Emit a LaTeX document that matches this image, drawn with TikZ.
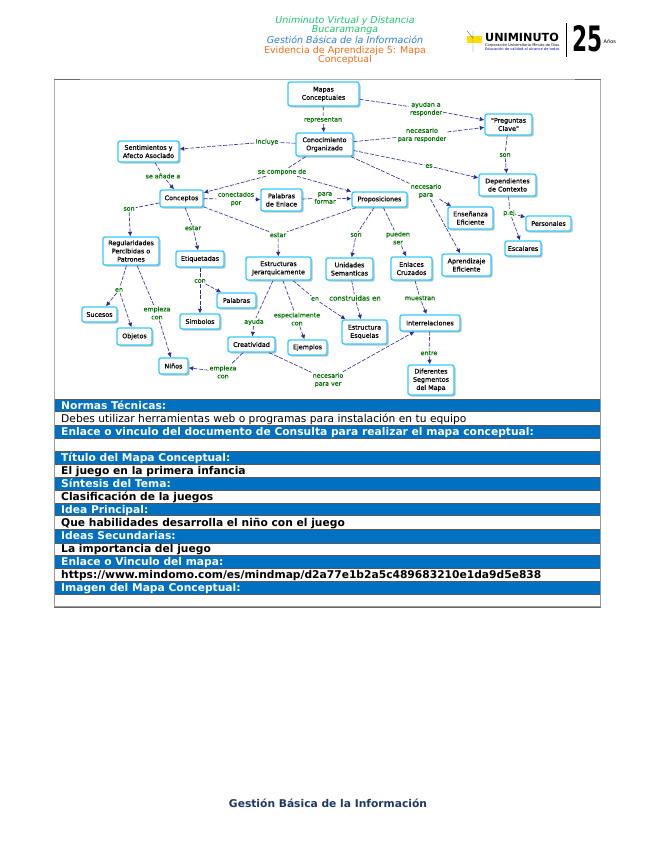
\documentclass[tikz,border=0pt]{standalone}
\usepackage{fontspec}
\setmainfont{DejaVu Sans}
\newfontfamily\boxfont[FakeBold=0.45]{DejaVu Sans}
\newfontfamily\labfont[FakeBold=0.25]{DejaVu Sans}
\usetikzlibrary{arrows.meta,shadows}
\definecolor{cy}{HTML}{33CCFF}
\definecolor{lab}{HTML}{006E00}
\definecolor{lnk}{HTML}{2A2A9A}
\definecolor{band}{HTML}{0070C0}
\definecolor{hgreen}{HTML}{22C46E}
\definecolor{hblue}{HTML}{2F80D0}
\definecolor{horange}{HTML}{F07020}
\definecolor{foot}{HTML}{1F3864}
\tikzset{
 cbox/.style={draw=cy,line width=1.4pt,rounded corners=2.2pt,fill=white,align=center,inner sep=0pt,
   font=\boxfont\fontsize{6.4}{8.2}\selectfont,text=black,
   drop shadow={shadow xshift=1.6pt,shadow yshift=-1.6pt,fill=black!45,opacity=.55}},
 lbl/.style={font=\labfont\fontsize{6.3}{8}\selectfont,text=lab,align=center,inner sep=1pt},
 con/.style={draw=lnk,line width=.6pt,dash pattern=on 4pt off 1.5pt},
 arr/.style={con,-{Latex[length=4.5pt,width=4.5pt]}},
 bandtxt/.style={font=\fontsize{10.7}{12}\selectfont\bfseries,text=white,anchor=base west,inner sep=0pt},
 rowtxt/.style={font=\fontsize{10.7}{12}\selectfont\bfseries,text=black,anchor=base west,inner sep=0pt},
 headtxt/.style={font=\fontsize{9.5}{11}\selectfont,inner sep=0pt}
}
\newcommand{\cboxat}[7]{%
 \node[cbox,minimum width=#4pt-#2pt,minimum height=#5pt-#3pt] (#1) at ({(#2+#4)/2},{(#3+#5)/2}) {#6};}
\begin{document}
\begin{tikzpicture}[x=1pt,y=-1pt]
\useasboundingbox (0,0) rectangle (655,848);
\fill[white] (0,0) rectangle (655,848);
% header
\node[headtxt,text=hgreen] (h1) at (345,21) {\itshape Uniminuto Virtual y Distancia};
\node[headtxt,text=hgreen] (h2) at (345,30.5) {\itshape Bucaramanga};
\node[headtxt,text=hblue] (h3) at (345,40) {\itshape Gestión Básica de la Información};
\node[headtxt,text=horange] (h4) at (345,50.5) {Evidencia de Aprendizaje 5: Mapa};
\node[headtxt,text=horange] (h5) at (345,60) {Conceptual};
% logo
\fill[yellow!80!orange] (467,36) rectangle (482,43);
\draw[black!60,line width=.4pt] (473,31)--(473,52) (467,31)--(473,38);
\node[font=\fontsize{11.2}{12}\selectfont\bfseries,inner sep=0pt,anchor=base west] (lg1) at (485,42) {UNIMINUTO};
\node[font=\fontsize{3.6}{4}\selectfont,inner sep=0pt,anchor=west] (lg2) at (485,45) {Corporación Universitaria Minuto de Dios};
\node[font=\fontsize{3.6}{4}\selectfont,inner sep=0pt,anchor=west,text=blue!70!black] (lg3) at (485,49) {Educación de calidad al alcance de todos};
\draw[black,line width=.7pt] (566,23)--(566,57);
\node[font=\fontsize{35}{35}\selectfont\bfseries,inner sep=0pt,xscale=.62] (lg4) at (587.5,39) {25};
\node[font=\fontsize{5}{6}\selectfont,inner sep=0pt,anchor=west] (lg5) at (603.5,41.5) {Años};
% frame
\draw[black!32,line width=1.6pt] (54.5,399)--(54.5,79.5)--(600.5,79.5)--(600.5,399);
\draw[black!60,line width=1.2pt] (54,79.5)--(80,79.5) (575,79.5)--(601,79.5);
% nodes
\cboxat{mapas}{288}{82}{359}{106}{Mapas\\Conceptuales}{}
\cboxat{org}{296}{133}{353}{156}{Conocimiento\\Organizado}{}
\cboxat{sent}{118}{141}{179}{162}{Sentimientos y\\Afecto Asociado}{}
\cboxat{conc}{160}{190}{203}{207}{Conceptos}{}
\cboxat{pal}{261}{189}{302}{211}{Palabras\\de Enlace}{}
\cboxat{prop}{352}{192}{407}{207}{Proposiciones}{}
\cboxat{preg}{485}{114}{532}{135}{"Preguntas\\Clave"}{}
\cboxat{dep}{479}{174}{536}{196}{Dependientes\\de Contexto}{}
\cboxat{ens}{448}{207}{493}{229}{Enseñanza\\Eficiente}{}
\cboxat{pers}{526}{216}{571}{231}{Personales}{}
\cboxat{esc}{505}{241}{541}{256}{Escalares}{}
\cboxat{apr}{442}{254}{491}{276}{Aprendizaje\\Eficiente}{}
\cboxat{reg}{103}{237}{159}{265}{Regularidades\\Percibidas o\\Patrones}{}
\cboxat{eti}{176}{251}{224}{267}{Etiquetadas}{}
\cboxat{est}{246}{257}{311}{280}{Estructuras\\Jerarquicamente}{}
\cboxat{uni}{326}{258}{373}{280}{Unidades\\Semanticas}{}
\cboxat{enl}{391}{257}{432}{280}{Enlaces\\Cruzados}{}
\cboxat{suc}{82}{307}{117}{322}{Sucesos}{}
\cboxat{obj}{117}{328}{152}{345}{Objetos}{}
\cboxat{sim}{180}{314}{220}{329}{Simbolos}{}
\cboxat{pala}{217}{293}{256}{308}{Palabras}{}
\cboxat{cre}{228}{337}{275}{352}{Creatividad}{}
\cboxat{eje}{288}{340}{327}{355}{Ejemplos}{}
\cboxat{nin}{159}{358}{188}{374}{Niños}{}
\cboxat{esq}{342}{320}{387}{344}{Estructura\\Esquelas}{}
\cboxat{int}{400}{315}{460}{331}{Interrelaciones}{}
\cboxat{dif}{408}{365}{454}{395}{Diferentes\\Segmentos\\del Mapa}{}
% labels
\node[lbl] (l1) at (323,120) {representan};
\node[lbl] (l2) at (426,109) {ayudan a\\responder};
\node[lbl] (l3) at (422,135) {\fontsize{6.6}{8}\selectfont necesario\\para responder};
\node[lbl] (l4) at (267,142) {Incluye};
\node[lbl] (l5) at (163,176) {se añade a};
\node[lbl] (l6) at (282,172) {se compone de};
\node[lbl] (l7) at (236,199) {conectados\\por};
\node[lbl] (l8) at (325,198) {para\\formar};
\node[lbl] (l9) at (429,166) {es};
\node[lbl] (l10) at (426,191) {necesario\\para};
\node[lbl] (l11) at (505,155) {son};
\node[lbl] (l12) at (129,209) {son};
\node[lbl] (l13) at (193,228) {estar};
\node[lbl] (l14) at (278,235) {estar};
\node[lbl] (l15) at (356,235) {son};
\node[lbl] (l16) at (398,238) {pueden\\ser};
\node[lbl] (l17) at (510,213) {p.ej.};
\node[lbl] (l18) at (119,290) {en};
\node[lbl] (l19) at (157,313) {empieza\\con};
\node[lbl] (l20) at (200,281) {con};
\node[lbl] (l21) at (254,322) {ayuda};
\node[lbl] (l22) at (297,319) {especialmente\\con};
\node[lbl] (l23) at (315,299) {en};
\node[lbl] (l24) at (355,298) {\fontsize{7}{8}\selectfont construidas en};
\node[lbl] (l25) at (420,298) {muestran};
\node[lbl] (l26) at (429,353) {entre};
\node[lbl] (l27) at (328,380) {necesario\\para ver};
\node[lbl] (l28) at (223,372) {empieza\\con};
% connectors
\draw[con] (mapas)--(l1); \draw[arr] (l1)--(org);
\draw[con] (mapas)--(l2); \draw[arr] (l2)--(preg);
\draw[con] (org)--(l3); \draw[arr] (l3)--(preg);
\draw[con] (org)--(l4); \draw[arr] (l4)--(sent);
\draw[con] (sent)--(l5); \draw[arr] (l5)--(conc);
\draw[con] (org)--(l6); \draw[arr] (l6)--(conc); \draw[arr] (l6)--(prop);
\draw[con] (conc)--(l7); \draw[arr] (l7)--(pal);
\draw[con] (pal)--(l8); \draw[arr] (l8)--(prop);
\draw[con] (org)--(l9); \draw[arr] (l9)--(dep);
\draw[con] (org)--(l10); \draw[arr] (l10)--(ens); \draw[arr] (l10)--(apr);
\draw[con] (preg)--(l11); \draw[arr] (l11)--(dep);
\draw[con] (conc)--(l12); \draw[arr] (l12)--(reg);
\draw[con] (conc)--(l13); \draw[arr] (l13)--(eti);
\draw[con] (conc)--(l14); \draw[con] (prop)--(l14); \draw[arr] (l14)--(est);
\draw[con] (prop)--(l15); \draw[arr] (l15)--(uni);
\draw[con] (prop)--(l16); \draw[arr] (l16)--(enl);
\draw[con] (dep)--(l17); \draw[arr] (l17)--(pers); \draw[arr] (l17)--(esc);
\draw[con] (reg)--(l18); \draw[arr] (l18)--(suc); \draw[arr] (l18)--(obj);
\draw[con] (reg)--(l19); \draw[arr] (l19)--(nin);
\draw[con] (eti)--(l20); \draw[arr] (l20)--(pala); \draw[arr] (l20)--(sim);
\draw[con] (est)--(l21); \draw[arr] (l21)--(cre);
\draw[con] (est)--(l22); \draw[arr] (l22)--(eje);
\draw[con] (est)--(l23); \draw[arr] (l23)--(esq);
\draw[con] (uni)--(l24); \draw[arr] (l24)--(esq);
\draw[con] (enl)--(l25); \draw[arr] (l25)--(int);
\draw[con] (int)--(l26); \draw[arr] (l26)--(dif);
\draw[con] (cre)--(l27); \draw[arr] (l27)--(int);
\draw[con] (cre)--(l28); \draw[arr] (l28)--(nin);
% table
\foreach \a/\b in {399/411,425/438,451/464,477/490,503/515,529/543,555/568,581/594}
  \fill[band] (55,\a) rectangle (600,\b);
\foreach \y in {399,411,425,438,451,464,477,490,503,515,529,543,555,568,581,594}
  \draw[black!65,line width=.7pt] (55,\y)--(600,\y);
\draw[black!40,line width=1.5pt] (54.5,399)--(54.5,607)--(600.5,607)--(600.5,399);
\draw[black!60,line width=.8pt] (54,607)--(601,607);
\node[bandtxt] (t1) at (61,409) {Normas Técnicas:};
\node[rowtxt,font=\fontsize{10.7}{12}\selectfont] (t2) at (61,422) {Debes utilizar herramientas web o programas para instalación en tu equipo};
\node[bandtxt] (t3) at (61,435) {Enlace o vinculo del documento de Consulta para realizar el mapa conceptual:};
\node[bandtxt] (t4) at (61,461) {Título del Mapa Conceptual:};
\node[rowtxt] (t5) at (61,474) {El juego en la primera infancia};
\node[bandtxt] (t6) at (61,487) {Síntesis del Tema:};
\node[rowtxt] (t7) at (61,500) {Clasificación de la juegos};
\node[bandtxt] (t8) at (61,513) {Idea Principal:};
\node[rowtxt] (t9) at (61,526) {Que habilidades desarrolla el niño con el juego};
\node[bandtxt] (t10) at (61,539.5) {Ideas Secundarias:};
\node[rowtxt] (t11) at (61,552.5) {La importancia del juego};
\node[bandtxt] (t12) at (61,565.5) {Enlace o Vinculo del mapa:};
\node[rowtxt] (t13) at (61,578.5) {https://www.mindomo.com/es/mindmap/d2a77e1b2a5c489683210e1da9d5e838};
\node[bandtxt] (t14) at (61,591.5) {Imagen del Mapa Conceptual:};
% footer
\node[font=\fontsize{10.7}{12}\selectfont\bfseries,text=foot,inner sep=0pt] (f) at (328,803.5) {Gestión Básica de la Información};
\end{tikzpicture}
\end{document}
